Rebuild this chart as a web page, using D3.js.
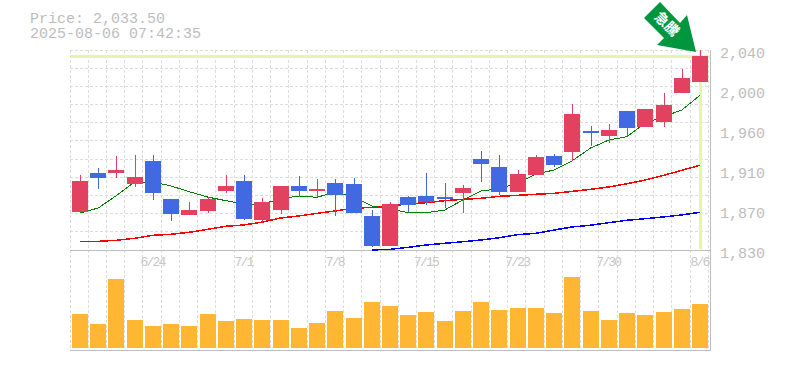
<!DOCTYPE html>
<html lang="ja">
<head>
    <meta charset="UTF-8">
    <title>Price chart</title>
    <script src="https://d3js.org/d3.v7.min.js"></script>
    <style>
        body { margin: 0; background-color: #ffffff; }
        svg { display: block; }
        text { font-family: "Liberation Mono", monospace; fill: #bdbdbd; }
        .price-label { font-size: 15px; }
        .date-label { font-size: 13px; letter-spacing: -1.8px; fill: #c6c6c6; }
        .arrow-label { font-family: "Noto Sans CJK JP", sans-serif; font-size: 14px; font-weight: 700; fill: #ffffff; }
    </style>
</head>
<body>
    <div id="chart"></div>

    <script>
        // Header text
        const priceText = 'Price: 2,033.50';
        const timeText = '2025-08-06 07:42:35';
        const arrowText = '急騰';

        // Trading days
        const dates = ['6/18', '6/19', '6/20', '6/23', '6/24', '6/25', '6/26', '6/27', '6/30',
            '7/1', '7/2', '7/3', '7/4', '7/7', '7/8', '7/9', '7/10', '7/11', '7/14',
            '7/15', '7/16', '7/17', '7/18', '7/22', '7/23', '7/24', '7/25', '7/28', '7/29',
            '7/30', '7/31', '8/1', '8/4', '8/5', '8/6'];
        const dateTicks = ['6/24', '7/1', '7/8', '7/15', '7/23', '7/30', '8/6'];

        // Price axis: the labels are rounded to tens
        const priceTicks = [2040, 1998, 1956, 1914, 1872, 1830];
        const priceTickLabels = ['2,040', '2,000', '1,960', '1,910', '1,870', '1,830'];
        const lastPrice = 2033.5;

        // Candles
        const opens = [1870, 1910.5, 1910.5, 1899.5, 1923.5, 1883.5, 1867, 1871, 1892, 1902.5, 1861.5, 1872,
            1897, 1892, 1900.5, 1899.5, 1865.5, 1834, 1885.5, 1886.5, 1885.5, 1890, 1925.5, 1917,
            1891, 1909, 1928.5, 1933, 1955, 1949.5, 1976, 1959, 1964.5, 1995, 2006.5];
        const highs = [1908.5, 1916, 1929, 1930, 1930, 1883.5, 1880.5, 1885.5, 1909, 1909, 1884.5, 1897,
            1907.5, 1904.5, 1904.5, 1905.5, 1872, 1880.5, 1886.5, 1911, 1900.5, 1898.5, 1934, 1930,
            1914, 1930, 1931, 1983.5, 1960, 1962.5, 1976, 1978, 1995, 2020, 2040];
        const lows = [1870, 1894, 1905.5, 1896, 1882.5, 1860.5, 1867, 1869, 1890, 1861.5, 1859.5, 1868,
            1885.5, 1885.5, 1865.5, 1869, 1833, 1834, 1870, 1877.5, 1874, 1869, 1901.5, 1888,
            1891, 1909, 1917, 1923.5, 1939, 1942.5, 1948.5, 1959, 1959, 1995, 2006.5];
        const closes = [1902.5, 1905.5, 1914, 1906.5, 1890, 1868, 1872, 1883.5, 1897, 1862.5, 1880.5, 1897,
            1892, 1894, 1888, 1869, 1834, 1878.5, 1877.5, 1880.5, 1883.5, 1895, 1920.5, 1891,
            1910, 1927.5, 1919, 1973, 1953, 1956, 1958, 1978, 1982.5, 2010.5, 2033.5];

        // Moving averages
        const maShort = [1868.9, 1874.1, 1887.2, 1901.4, 1901.4, 1897.2, 1891.2, 1885.6, 1881.8, 1878.3, 1878.3, 1883.9,
            1886.7, 1885.3, 1890.9, 1885.6, 1876.2, 1873, 1869.2, 1869.2, 1872, 1882.5, 1892, 1894.4,
            1900.4, 1909.8, 1914, 1923.8, 1937.1, 1945.5, 1949, 1963.4, 1970, 1977, 1992.4];
        const maMiddle = [1839.1, 1839.1, 1840.2, 1842.3, 1845.4, 1846.5, 1848.6, 1851.7, 1854.9, 1856.3, 1859.4, 1863.6,
            1865.7, 1868.5, 1871, 1873.8, 1874.8, 1876.2, 1878.3, 1879.7, 1881.8, 1883.2, 1884.3, 1886.4,
            1887.4, 1888.5, 1889.5, 1891.6, 1893.7, 1896.2, 1899.6, 1903.5, 1908.4, 1913.7, 1919];
        const maLong = [null, null, null, null, null, null, null, null, null, null, null, null,
            null, null, null, null, 1830, 1830.7, 1832.8, 1835.3, 1837, 1838.7, 1840.5, 1842.9,
            1846.1, 1847.5, 1851, 1854.2, 1856, 1858.7, 1861.2, 1862.9, 1864.7, 1866.8, 1869.6];

        // Volume
        const volumes = [34, 24, 69, 28, 22, 24, 22, 34, 27, 29, 28, 28, 20, 25, 37, 30, 46, 42,
            33, 36, 27, 37, 46, 38, 40, 40, 35, 71, 37, 28, 35, 33, 36, 39, 44];

        // Colors
        const upColor = '#e2425f';
        const downColor = '#4169e1';
        const volumeColor = '#ffb733';
        const gridColor = '#dcdcdc';
        const frameColor = '#bdbdbd';
        const markColor = '#e6f5a6';
        const arrowColor = '#009640';

        // Set up SVG dimensions
        const width = 785;
        const height = 370;
        const plotLeft = 70;
        const plotRight = 710;
        const priceTop = 50;
        const priceBottom = 250;
        const volumeBottom = 350;
        const candleWidth = 16;

        const svg = d3.select('#chart')
            .append('svg')
            .attr('width', width)
            .attr('height', height);

        // Scales
        const x = d3.scalePoint().domain(dates).range([80, 700]);
        const y = d3.scaleLinear().domain([1830, 2040]).range([priceBottom, priceTop]);
        const yVolume = d3.scaleLinear().domain([0, 71]).range([348, 277]);
        const cx = d => Math.round(x(d));

        // Dashed grid
        const grid = svg.append('g')
            .attr('stroke', gridColor)
            .attr('stroke-dasharray', '3,2')
            .attr('shape-rendering', 'crispEdges');

        grid.selectAll('.h')
            .data(d3.range(12))
            .enter()
            .append('line')
            .attr('x1', plotLeft)
            .attr('x2', plotRight)
            .attr('y1', d => Math.floor(priceBottom - d * (priceBottom - priceTop) / 11) + 0.5)
            .attr('y2', d => Math.floor(priceBottom - d * (priceBottom - priceTop) / 11) + 0.5);

        grid.selectAll('.v')
            .data(d3.range(36))
            .enter()
            .append('line')
            .attr('x1', d => Math.floor(80 + d * x.step() - 10) + 0.5)
            .attr('x2', d => Math.floor(80 + d * x.step() - 10) + 0.5)
            .attr('y1', priceTop)
            .attr('y2', volumeBottom);

        // Current price marker and latest date marker
        svg.append('rect')
            .attr('x', plotLeft)
            .attr('y', Math.round(y(lastPrice)) - 1)
            .attr('width', plotRight - plotLeft)
            .attr('height', 3)
            .attr('fill', markColor);

        svg.append('rect')
            .attr('x', cx('8/6') - 1)
            .attr('y', priceTop)
            .attr('width', 3)
            .attr('height', priceBottom - priceTop - 1)
            .attr('fill', markColor);

        // Frame
        const frame = svg.append('g')
            .attr('stroke', frameColor)
            .attr('shape-rendering', 'crispEdges');
        frame.append('line').attr('x1', plotLeft).attr('x2', plotRight + 1).attr('y1', priceBottom + 0.5).attr('y2', priceBottom + 0.5);
        frame.append('line').attr('x1', plotLeft).attr('x2', plotRight + 1).attr('y1', volumeBottom + 0.5).attr('y2', volumeBottom + 0.5);
        frame.append('line').attr('x1', plotRight + 0.5).attr('x2', plotRight + 0.5).attr('y1', priceTop).attr('y2', volumeBottom);

        // Moving averages
        const maLine = d3.line()
            .defined(d => d !== null)
            .x((d, i) => x(dates[i]))
            .y(d => y(d));

        [[maLong, '#0000ff'], [maMiddle, '#ff0000'], [maShort, '#008000']].forEach(([values, color]) => {
            svg.append('path')
                .attr('d', maLine(values))
                .attr('fill', 'none')
                .attr('stroke', color)
                .attr('stroke-width', color === '#008000' ? 1 : 1.5)
                .attr('shape-rendering', 'crispEdges');
        });

        // Candles
        const candles = svg.selectAll('.candle')
            .data(dates)
            .enter()
            .append('g')
            .attr('class', 'candle')
            .attr('shape-rendering', 'crispEdges')
            .attr('fill', (d, i) => closes[i] >= opens[i] ? upColor : downColor);

        candles.append('rect')
            .attr('x', d => cx(d))
            .attr('y', (d, i) => y(highs[i]))
            .attr('width', 1)
            .attr('height', (d, i) => y(lows[i]) - y(highs[i]));

        candles.append('rect')
            .attr('x', d => cx(d) - candleWidth / 2)
            .attr('y', (d, i) => y(Math.max(opens[i], closes[i])))
            .attr('width', candleWidth)
            .attr('height', (d, i) => Math.abs(y(opens[i]) - y(closes[i])));

        // Volume bars
        svg.selectAll('.volume')
            .data(volumes)
            .enter()
            .append('rect')
            .attr('class', 'volume')
            .attr('x', (d, i) => cx(dates[i]) - candleWidth / 2)
            .attr('y', d => yVolume(d))
            .attr('width', candleWidth)
            .attr('height', d => yVolume(0) - yVolume(d))
            .attr('fill', volumeColor)
            .attr('shape-rendering', 'crispEdges');

        // Axes
        const priceAxis = d3.axisRight(y)
            .tickValues(priceTicks)
            .tickFormat((d, i) => priceTickLabels[i])
            .tickSize(0)
            .tickPadding(0);

        const priceAxisGroup = svg.append('g')
            .attr('transform', `translate(720, 0)`)
            .call(priceAxis);
        priceAxisGroup.select('.domain').remove();
        priceAxisGroup.selectAll('text')
            .attr('class', 'price-label')
            .attr('x', 0)
            .attr('dy', 7)
            .style('font-family', '"Liberation Mono", monospace')
            .style('font-size', '15px');

        const dateAxis = d3.axisBottom(x)
            .tickValues(dateTicks)
            .tickSize(0)
            .tickPadding(0);

        const dateAxisGroup = svg.append('g')
            .attr('transform', `translate(-1, ${priceBottom + 6})`)
            .call(dateAxis);
        dateAxisGroup.select('.domain').remove();
        dateAxisGroup.selectAll('text')
            .attr('class', 'date-label')
            .attr('y', 0)
            .attr('dy', 10)
            .style('font-family', '"Liberation Mono", monospace')
            .style('font-size', '13px');

        // Header
        svg.append('text').attr('class', 'price-label').attr('x', 30).attr('y', 23).text(priceText);
        svg.append('text').attr('class', 'price-label').attr('x', 30).attr('y', 38).text(timeText);

        // Arrow pointing at the latest high
        const tipX = cx('8/6') - 4;
        const tipY = y(highs[highs.length - 1]) + 2;
        const arrowShape = [[0, 0], [-39, -7], [-32, -14], [-52, -34], [-36, -50], [-16, -29], [-9, -37]];

        svg.append('polygon')
            .attr('points', arrowShape.map(p => [tipX + p[0], tipY + p[1]].join(',')).join(' '))
            .attr('fill', arrowColor);

        svg.append('text')
            .attr('class', 'arrow-label')
            .attr('text-anchor', 'middle')
            .attr('transform', `translate(${tipX - 29}, ${tipY - 28}) rotate(45)`)
            .attr('dy', 5)
            .text(arrowText);
    </script>
</body>
</html>
